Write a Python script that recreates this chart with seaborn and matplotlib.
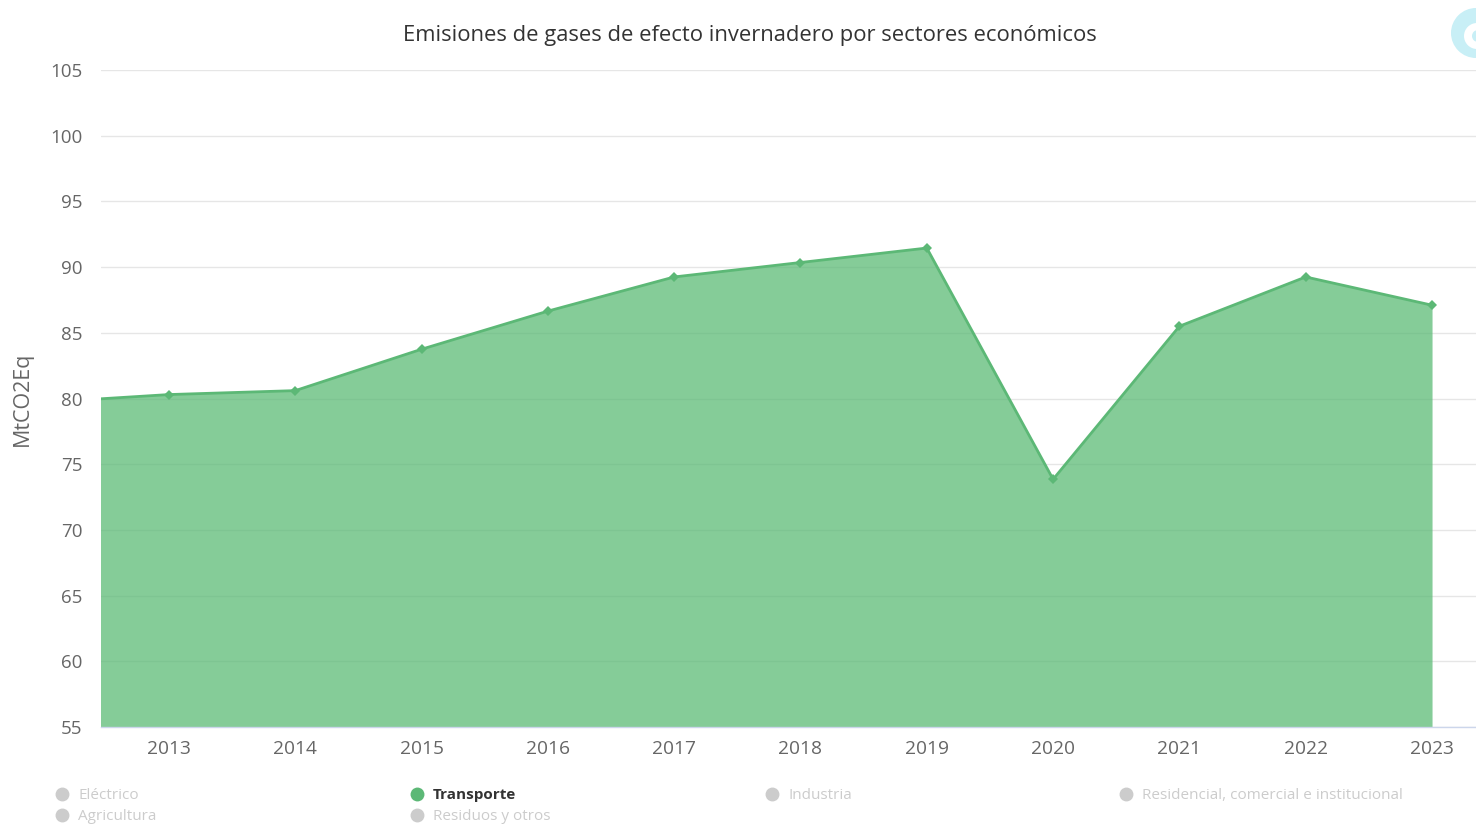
import matplotlib
matplotlib.use("Agg")
import matplotlib.pyplot as plt
import seaborn as sns
import pandas as pd
import numpy as np
from matplotlib.lines import Line2D
from matplotlib.patches import Circle
import logging
logging.getLogger("matplotlib.font_manager").setLevel(logging.ERROR)

# ---- data ----
years = [2012, 2013, 2014, 2015, 2016, 2017, 2018, 2019, 2020, 2021, 2022, 2023]
transporte = [79.7, 80.3, 80.6, 83.75, 86.65, 89.25, 90.35, 91.45, 73.85, 85.5, 89.25, 87.1]
tick_years = [2013, 2014, 2015, 2016, 2017, 2018, 2019, 2020, 2021, 2022, 2023]
y_ticks = [55, 60, 65, 70, 75, 80, 85, 90, 95, 100, 105]
legend_labels = ["Eléctrico", "Transporte", "Industria", "Residencial, comercial e institucional",
                 "Agricultura", "Residuos y otros"]
legend_active = [False, True, False, False, False, False]
title = "Emisiones de gases de efecto invernadero por sectores económicos"
ylabel = "MtCO2Eq"

df = pd.DataFrame({"year": years, "value": transporte})

sns.set_theme(style="white")
plt.rcParams['font.family'] = ['Open Sans', 'DejaVu Sans']

W, H = 1476, 825
fig = plt.figure(figsize=(W / 100, H / 100), dpi=100)
ax = fig.add_axes([101 / W, 1 - 727 / H, 1375 / W, 657 / H])

line_col = "#5cb876"
fill_col = "#5cbb76"

ax.fill_between(df["year"], df["value"], 55, color=fill_col, alpha=0.75, linewidth=0, zorder=2)
sns.lineplot(data=df, x="year", y="value", ax=ax, color=line_col, linewidth=2,
             marker="D", markersize=5, markeredgewidth=0, zorder=3)

ax.set_xlim(2012.462, 2023.348)
ax.set_ylim(55, 105)
ax.set_yticks(y_ticks)
ax.set_xticks(tick_years)
ax.set_xticklabels([str(y) for y in tick_years], fontsize=13.8, color="#666666")
ax.set_yticklabels([str(v) for v in y_ticks], fontsize=13.5, color="#666666")
ax.tick_params(axis="both", length=0)
ax.tick_params(axis="x", pad=9)
ax.tick_params(axis="y", pad=13.5)
ax.grid(axis="y", color="#e6e6e6", linewidth=1, zorder=1)
ax.set_axisbelow(True)
for s in ["top", "right", "left"]:
    ax.spines[s].set_visible(False)
ax.spines["bottom"].set_color("#ccd6eb")
ax.spines["bottom"].set_linewidth(1)
ax.set_xlabel("")
ax.set_ylabel(ylabel, fontsize=15.5, color="#666666")
ax.yaxis.set_label_coords(-68 / 1375, 0.5)

fig.text(750 / W, 1 - 36 / H, title, ha="center", va="center", fontsize=15.8, color="#333333")

# legend
col_x = [62, 417, 772, 1126]
row_y = [794, 815]
for i, (lab, act) in enumerate(zip(legend_labels, legend_active)):
    r, c = divmod(i, 4)
    x = col_x[c]
    y = row_y[r]
    mc = "#5cb876" if act else "#cccccc"
    tc = "#333333" if act else "#cccccc"
    fig.add_artist(Line2D([x / W], [1 - y / H], marker="o", markersize=10, color=mc,
                          markeredgewidth=0, transform=fig.transFigure))
    fig.text((x + 16) / W, 1 - (y + 1.5) / H, lab, ha="left", va="center", fontsize=11, color=tc,
             fontweight="bold" if act else "normal")

# logo (partial, top-right)
tr = fig.dpi_scale_trans
fig.add_artist(Circle((14.76, (H - 33) / 100), 0.25, transform=tr,
                      facecolor="#c8eff6", edgecolor="none"))
fig.add_artist(Circle((14.77, (H - 36) / 100), 0.13, transform=tr,
                      facecolor="white", edgecolor="none"))
fig.add_artist(Circle((14.78, (H - 36) / 100), 0.06, transform=tr,
                      facecolor="#c8eff6", edgecolor="none"))

fig.savefig("out.png", dpi=100, facecolor="white")
